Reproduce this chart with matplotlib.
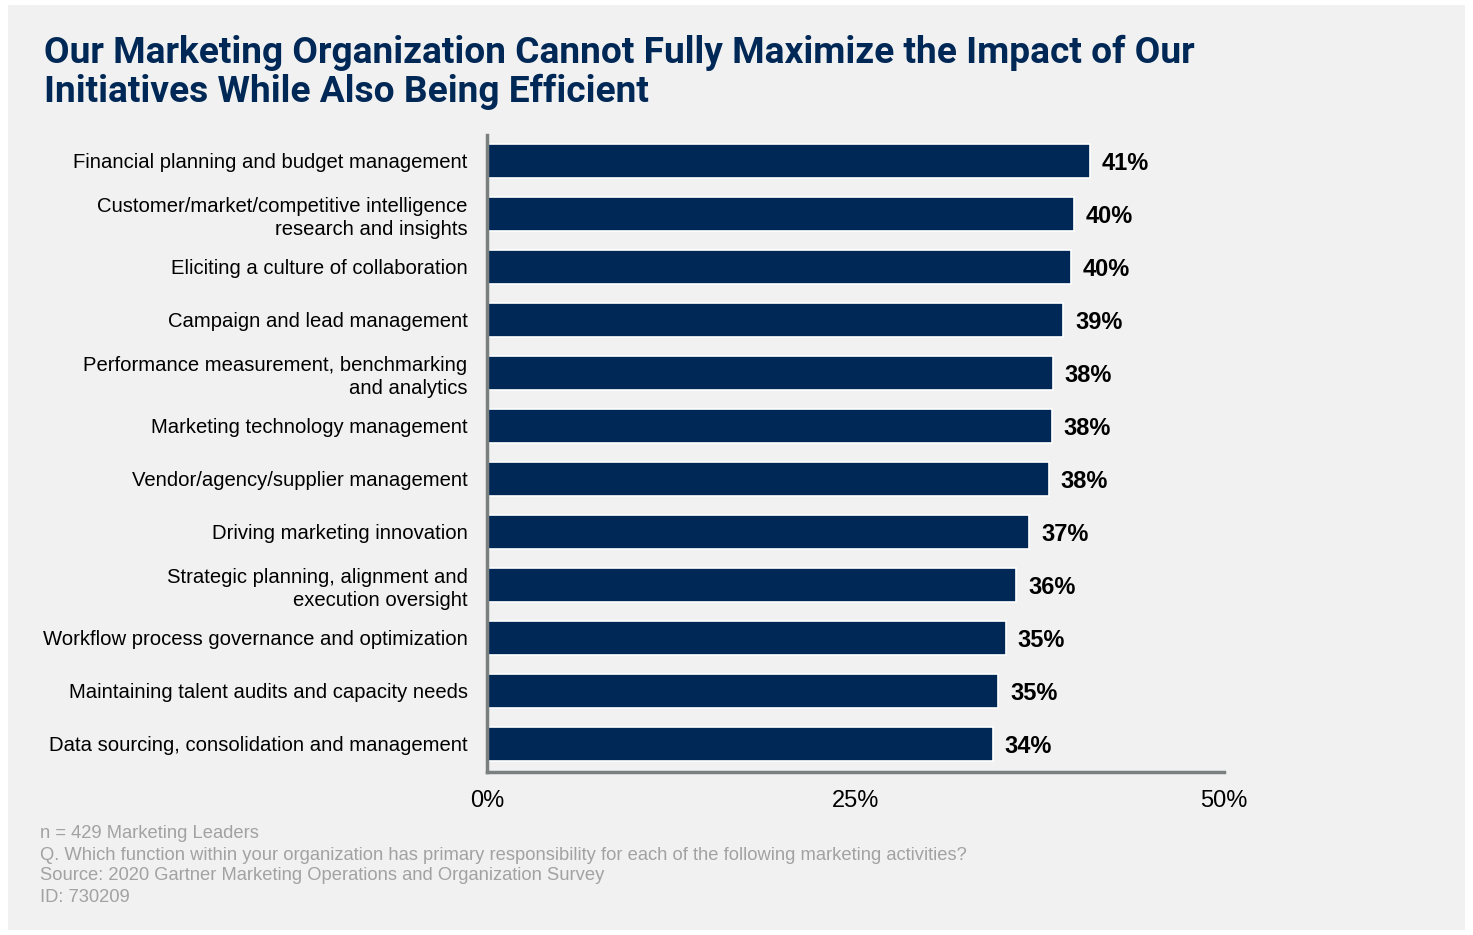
# -*- coding: utf-8 -*-

import matplotlib
matplotlib.use("Agg")
from matplotlib import pyplot as plt
from matplotlib.patches import Rectangle

# dados
categorias = [
    "Financial planning and budget management",
    "Customer/market/competitive intelligence\nresearch and insights",
    "Eliciting a culture of collaboration",
    "Campaign and lead management",
    "Performance measurement, benchmarking\nand analytics",
    "Marketing technology management",
    "Vendor/agency/supplier management",
    "Driving marketing innovation",
    "Strategic planning, alignment and\nexecution oversight",
    "Workflow process governance and optimization",
    "Maintaining talent audits and capacity needs",
    "Data sourcing, consolidation and management",
]
valores = [40.9, 39.8, 39.6, 39.1, 38.4, 38.3, 38.1, 36.8, 35.9, 35.2, 34.7, 34.3]
rotulos = ["41%", "40%", "40%", "39%", "38%", "38%", "38%", "37%", "36%", "35%", "35%", "34%"]
ticks_x = [0, 25, 50]
ticks_x_txt = ["0%", "25%", "50%"]

navy = "#002856"
cinza_fundo = "#f1f1f1"
cinza_eixo = "#7a7f80"
cinza_nota = "#a2a2a2"

fig = plt.figure(figsize=(14.73, 9.35), dpi=100)
fig.patch.set_facecolor("white")
# painel cinza claro
fig.patches.append(Rectangle((8 / 1473, 5 / 935), 1457 / 1473, 925 / 935,
                             transform=fig.transFigure, facecolor=cinza_fundo,
                             edgecolor="none", zorder=-10))

ax = fig.add_axes([487 / 1473, 1 - 772 / 935, 737 / 1473, 637 / 935])
ax.set_facecolor("none")
ax.set_zorder(5)

pos = list(range(len(categorias)))
ax.barh(pos, valores, height=0.63, color=navy, edgecolor="white", linewidth=1.2, zorder=2)
for p, v, r in zip(pos, valores, rotulos):
    ax.text(v + 0.8, p, r, va="center_baseline", ha="left", fontsize=17,
            fontweight="bold", color="black", family="Liberation Sans")

ax.set_xlim(0, 50)
ax.set_ylim(11.53, -0.49)
ax.set_yticks(pos)
ax.set_yticklabels(categorias, fontsize=14.6, family="Liberation Sans", linespacing=1.3)
ax.set_xticks(ticks_x)
ax.set_xticklabels(ticks_x_txt, fontsize=17, family="Liberation Sans")
ax.tick_params(axis="y", length=0, pad=14)
ax.tick_params(axis="x", length=0, pad=13)

for s in ["top", "right"]:
    ax.spines[s].set_visible(False)
for s in ["left", "bottom"]:
    ax.spines[s].set_color(cinza_eixo)
    ax.spines[s].set_linewidth(2.5)

titulo = ["Our Marketing Organization Cannot Fully Maximize the Impact of Our",
          "Initiatives While Also Being Efficient"]
for t, y in zip(titulo, [63, 102]):
    fig.text(44 / 1473, 1 - y / 935, t, fontsize=26.7, fontweight="bold",
             color=navy, family="Roboto", va="baseline")

notas = [
    "n = 429 Marketing Leaders",
    "Q. Which function within your organization has primary responsibility for each of the following marketing activities?",
    "Source: 2020 Gartner Marketing Operations and Organization Survey",
    "ID: 730209",
]
ys = [834, 856, 876, 898]
for t, y in zip(notas, ys):
    fig.text(40 / 1473, 1 - y / 935, t, fontsize=13.2, color=cinza_nota,
             family="Liberation Sans", va="center")

plt.savefig("out.png", dpi=100, facecolor=fig.get_facecolor())
